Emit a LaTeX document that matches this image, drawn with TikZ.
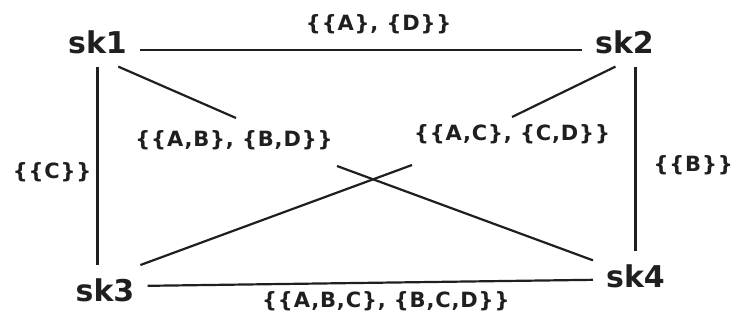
\documentclass[tikz,border=0pt]{standalone}
\usepackage{fontspec}
\setmainfont{DejaVu Sans}
\newfontfamily\setfont[LetterSpace=4]{DejaVu Sans Bold}
\newfontfamily\skfont{DejaVu Sans Bold}
\usetikzlibrary{positioning}
\definecolor{ink}{gray}{0.12}
\tikzset{
  sknode/.style={
    anchor=base,
    inner sep=13pt,
    text=ink,
    font=\skfont\fontsize{30}{36}\selectfont
  },
  setlabel/.style={
    inner sep=0pt,
    text=ink,
    font=\setfont\fontsize{21}{25}\selectfont
  },
  edge/.style={
    draw=ink,
    line width=2.2pt
  }
}

\begin{document}
\begin{tikzpicture}[x=1pt, y=-1pt]
  \useasboundingbox (0,0) rectangle (734,324);
  \node[sknode] (sk1) at (97.5,53) {sk1};
  \node[sknode] (sk2) at (624.5,53) {sk2};
  \node[sknode] (sk3) at (105,301) {sk3};
  \node[sknode] (sk4) at (635.5,287) {sk4};
  \draw[edge] ([yshift=3pt]sk1.base east) --
    node[setlabel, above=15pt, pos=.54] (sAD) {\{\{A\}, \{D\}\}} ([yshift=3pt]sk2.base west);
  \draw[edge] (sk1.south) --
    node[setlabel, left=5pt, pos=.53] (sC) {\{\{C\}\}} (sk1.south |- sk3.north);
  \draw[edge] (sk4.north |- sk2.south) --
    node[setlabel, right=17pt, pos=.535] (sB) {\{\{B\}\}} (sk4.north);
  \draw[edge] ([yshift=4pt]sk3.east) --
    node[setlabel, below=8pt, pos=.535] (sABC) {\{\{A,B,C\}, \{B,C,D\}\}} ([yshift=-4pt]sk4.west);
  % crossing diagonals, broken round their labels
  \node[setlabel] (sABBD) at (234,140) {\{\{A,B\}, \{B,D\}\}};
  \node[setlabel] (sACCD) at (512,134) {\{\{A,C\}, \{C,D\}\}};
  \coordinate (g1) at (236,118);
  \coordinate (g2) at (337,166);
  \coordinate (g3) at (512,117);
  \coordinate (g4) at (412,165);
  \draw[edge] (sk1.-50) -- (g1);
  \draw[edge] (g2) -- (sk4.160);
  \draw[edge] (sk2.-110) -- (g3);
  \draw[edge] (g4) -- (sk3.35);
\end{tikzpicture}
\end{document}
